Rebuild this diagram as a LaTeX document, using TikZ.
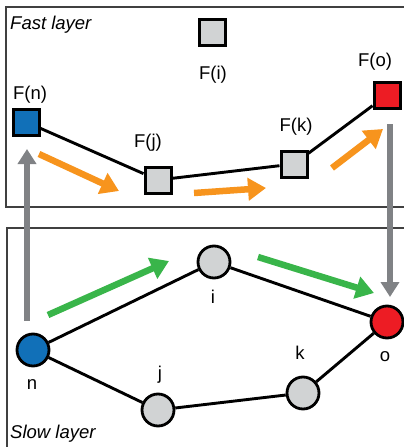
\documentclass[tikz,border=0pt]{standalone}
\usepackage{fontspec}
\setmainfont{Liberation Sans}
\usetikzlibrary{arrows.meta}
\definecolor{nblue}{HTML}{1170B8}
\definecolor{ored}{HTML}{ED1C24}
\definecolor{ngray}{HTML}{D1D3D4}
\definecolor{agray}{HTML}{808285}
\definecolor{aorange}{HTML}{F7941D}
\definecolor{agreen}{HTML}{39B54A}
\tikzset{
  sq/.style={draw=black, line width=3pt, minimum size=26pt, inner sep=0pt, fill=ngray},
  cir/.style={draw=black, line width=2.8pt, circle, minimum size=32pt, inner sep=0pt, fill=ngray},
  lab/.style={font=\fontsize{18.5}{20}\selectfont, inner sep=0pt},
  layerlab/.style={font=\fontsize{18.5}{20}\selectfont\itshape, inner sep=0pt, anchor=west},
  edge/.style={line width=2.9pt, black},
  oarr/.style={line width=6.5pt, aorange, -{Triangle[length=18pt,width=22pt]}},
  garr/.style={line width=6.5pt, agreen, -{Triangle[length=18pt,width=22pt]}},
  grarr/.style={line width=6pt, agray, -{Triangle[length=15pt,width=18pt]}},
  frame/.style={line width=1.3pt, black!75}
}
\begin{document}
\begin{tikzpicture}[x=1pt,y=-1pt]
\useasboundingbox (0,0) rectangle (404,447);
% layer frames
\draw[frame] (420,7) -- (6,7) -- (6,207) -- (420,207);
\draw[frame] (420,228) -- (7,228) -- (7,460);
\node[layerlab] (fl) at (10,25) {Fast layer};
\node[layerlab] (sl) at (10,434) {Slow layer};
% gray vertical arrows
\coordinate (ga1) at (27,321);
\coordinate (ga2) at (27,149);
\coordinate (gb1) at (390,124);
\coordinate (gb2) at (390,297);
\draw[grarr] (ga1) -- (ga2);
\draw[grarr] (gb1) -- (gb2);
% fast layer nodes
\node[sq] (Fi) at (212,32) {};
\node[sq, fill=nblue] (Fn) at (26,122) {};
\node[sq] (Fj) at (158,180) {};
\node[sq] (Fk) at (294,164) {};
\node[sq, fill=ored] (Fo) at (387,95) {};
\node[lab] (lFi) at (213,75) {F(i)};
\node[lab] (lFn) at (30,95) {F(n)};
\node[lab] (lFj) at (148,143) {F(j)};
\node[lab] (lFk) at (296,127) {F(k)};
\node[lab] (lFo) at (375,62) {F(o)};
\draw[edge] (Fn) -- (Fj) -- (Fk) -- (Fo);
% orange arrows
\coordinate (oa1) at (39,154); \coordinate (oa2) at (119,191);
\coordinate (ob1) at (194,193); \coordinate (ob2) at (266,188);
\coordinate (oc1) at (332,168); \coordinate (oc2) at (383,129);
\draw[oarr] (oa1) -- (oa2);
\draw[oarr] (ob1) -- (ob2);
\draw[oarr] (oc1) -- (oc2);
% slow layer nodes
\node[cir, fill=nblue] (n) at (33,350) {};
\node[cir] (i) at (214,262) {};
\node[cir, fill=ored] (o) at (387,322) {};
\node[cir] (j) at (158,410) {};
\node[cir] (k) at (303,393) {};
\node[lab] (ln) at (32,385) {n};
\node[lab] (li) at (213,297) {i};
\node[lab] (lo) at (385,357) {o};
\node[lab] (lj) at (160,375) {j};
\node[lab] (lk) at (300,353) {k};
\draw[edge] (n) -- (i) -- (o);
\draw[edge] (n) -- (j) -- (k) -- (o);
% green arrows
\coordinate (ga) at (48,315); \coordinate (gb) at (169,261);
\coordinate (gc) at (258,257); \coordinate (gd) at (374,293);
\draw[garr] (ga) -- (gb);
\draw[garr] (gc) -- (gd);
\end{tikzpicture}
\end{document}
